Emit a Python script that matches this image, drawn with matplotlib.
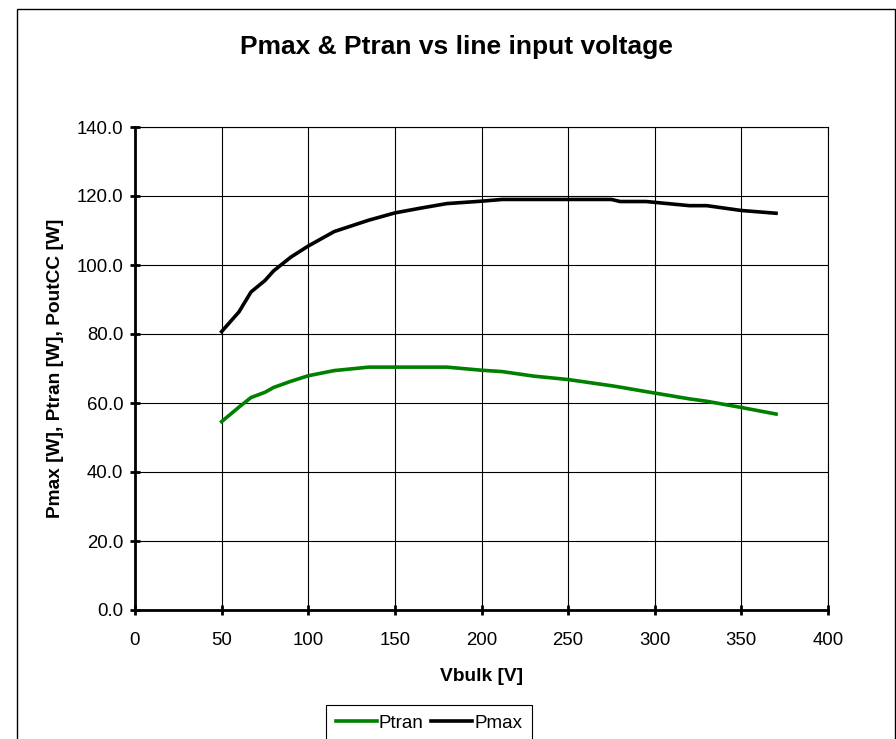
import matplotlib
matplotlib.use("Agg")
import matplotlib.pyplot as plt
from matplotlib.patches import Rectangle

plt.rcParams['font.family'] = ['Liberation Sans', 'DejaVu Sans']

vbulk = [50, 60, 67, 75, 80, 90, 100, 115, 135, 150, 165, 180, 200, 212,
         230, 250, 275, 280, 295, 320, 330, 350, 370]
pmax = [80.7, 86.4, 92.2, 95.5, 98.3, 102.3, 105.5, 109.7, 113.0, 115.1,
        116.5, 117.8, 118.5, 119.0, 119.0, 119.0, 119.0, 118.4, 118.4,
        117.2, 117.2, 115.8, 115.0]
ptran = [54.6, 58.8, 61.6, 63.1, 64.5, 66.3, 67.9, 69.4, 70.4, 70.4,
         70.4, 70.4, 69.5, 69.1, 67.8, 66.8, 65.0, 64.6, 63.3, 61.2,
         60.5, 58.7, 56.8]
xticks = [0, 50, 100, 150, 200, 250, 300, 350, 400]
yticks = [0, 20, 40, 60, 80, 100, 120, 140]

W, H = 896, 739
fig = plt.figure(figsize=(W / 100, H / 100), dpi=100)
fig.patch.set_facecolor('white')

# outer chart border
fig.patches.append(Rectangle((17 / W, -0.1), (894.5 - 17) / W, 1.1 - 9 / H,
                             transform=fig.transFigure, fill=False,
                             edgecolor='black', linewidth=1.0))

ax = fig.add_axes([135 / W, 1 - 610 / H, (828 - 135) / W, (610 - 127) / H])
ax.plot(vbulk, ptran, color='#008000', linewidth=2.6, label='Ptran', zorder=3)
ax.plot(vbulk, pmax, color='black', linewidth=2.6, label='Pmax', zorder=3)

ax.set_xlim(0, 400)
ax.set_ylim(0, 140)
ax.set_xticks(xticks)
ax.set_yticks(yticks)
ax.set_xticklabels([str(v) for v in xticks])
ax.set_yticklabels([f"{v:.1f}" for v in yticks])
ax.grid(True, color='black', linewidth=0.8)
ax.set_axisbelow(True)
for s in ['top', 'right']:
    ax.spines[s].set_linewidth(0.8)
for s in ['left', 'bottom']:
    ax.spines[s].set_linewidth(2.0)
ax.tick_params(axis='both', direction='inout', length=7, width=2.0,
               labelsize=13.4, pad=5)
ax.tick_params(axis='x', pad=12)

ax.set_xlabel('Vbulk [V]', fontsize=13.8, fontweight='bold', labelpad=14)
ax.set_ylabel('Pmax [W], Ptran [W], PoutCC [W]', fontsize=13.8,
              fontweight='bold', labelpad=9)

fig.text(456 / W, 1 - 47 / H, 'Pmax & Ptran vs line input voltage',
         ha='center', va='center', fontsize=19, fontweight='bold')

leg = fig.legend(loc='upper center', bbox_to_anchor=(429 / W, 1 - 705 / H),
                 ncol=2, fontsize=13.5, frameon=True, fancybox=False,
                 edgecolor='black', framealpha=1, handlelength=2.2,
                 handletextpad=0.1, columnspacing=0.4, borderpad=0.5,
                 borderaxespad=0)
leg.get_frame().set_linewidth(0.8)

fig.savefig('out.png', dpi=100)
